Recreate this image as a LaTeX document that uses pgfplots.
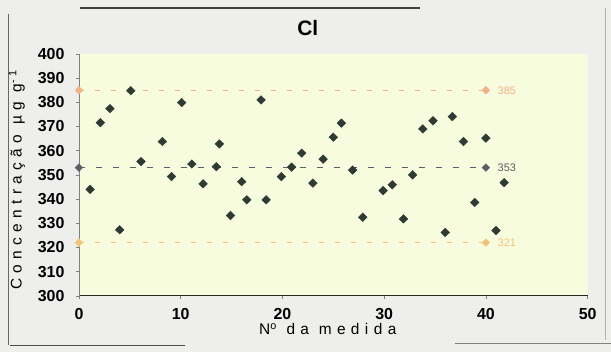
\documentclass[border=0pt]{standalone}
\usepackage{fontspec}
\setmainfont{Liberation Sans}
\newfontfamily\spaced[LetterSpace=35]{Liberation Sans}
\usepackage{pgfplots}
\pgfplotsset{compat=1.18}
\definecolor{pagebg}{HTML}{EEEEEC}
\definecolor{plotbg}{HTML}{F7FCDF}
\definecolor{markc}{HTML}{2E3A32}
\definecolor{upc}{HTML}{F0B088}
\definecolor{meanc}{HTML}{5A6068}
\definecolor{lowc}{HTML}{F2C478}
\begin{document}
\begin{tikzpicture}
\fill[pagebg] (0,0) rectangle (611bp,-352bp);
\draw[black!75, line width=1.2bp] (80bp,-8bp) -- (420bp,-8bp);
\draw[black!60, line width=0.8bp] (8bp,-14bp) -- (8bp,-345bp);
\draw[black!70, line width=1.2bp] (10bp,-346bp) -- (185bp,-346bp);
\draw[black!50, line width=0.8bp] (455bp,-344bp) -- (611bp,-344bp);
\draw[black!30, line width=0.6bp] (606bp,-8bp) -- (606bp,-340bp);
\begin{axis}[
  at={(79bp,-296bp)}, anchor=south west,
  scale only axis, width=509bp, height=242bp,
  xmin=0, xmax=50, ymin=300, ymax=400,
  xtick={0,10,...,50}, ytick={300,310,...,400},
  axis x line=bottom, axis y line=left,
  axis line style={-},
  x axis line style={black!85, line width=1.3bp},
  y axis line style={gray, line width=0.5bp},
  tick style={gray, line width=0.5bp},
  tick align=outside, major tick length=3bp,
  axis background/.style={fill=plotbg},
  tick label style={font=\fontsize{16}{17}\selectfont\bfseries},
  /pgf/number format/assume math mode=true,
  yticklabel style={xshift=-8bp},
  xticklabel style={yshift=-6bp},
  clip=false,
]
\addplot[upc, dashed, dash pattern=on 5bp off 11bp, line width=1bp, mark=diamond*, mark size=3.5bp, mark options={solid, xscale=1.3}]
  coordinates {(0,385) (40,385)} node[pos=1, right=8bp, font=\fontsize{11}{12}\selectfont, text=upc] {385};
\addplot[meanc, dashed, dash pattern=on 6bp off 11bp, line width=1bp, mark=diamond*, mark size=3.5bp, mark options={solid, xscale=1.3}]
  coordinates {(0,353) (40,353)} node[pos=1, right=8bp, font=\fontsize{11}{12}\selectfont, text=meanc] {353};
\addplot[lowc, dashed, dash pattern=on 5bp off 11bp, line width=1bp, mark=diamond*, mark size=3.5bp, mark options={solid, xscale=1.3}]
  coordinates {(0,322) (40,322)} node[pos=1, right=8bp, font=\fontsize{11}{12}\selectfont, text=lowc] {321};
\addplot[only marks, mark=diamond*, mark size=4.3bp, mark options={xscale=1.35}, color=markc] coordinates {
(1.1,344) (2.1,371.6) (3.05,377.4) (4.0,327.3) (5.1,384.8) (6.1,355.5)
(8.2,363.8) (9.1,349.3) (10.1,379.9) (11.1,354.5) (12.2,346.3) (13.5,353.4)
(13.8,362.8) (14.9,333.2) (16.0,347.2) (16.5,339.7) (17.9,381) (18.4,339.7)
(19.9,349.3) (20.9,353.2) (21.9,359) (23.0,346.6) (24.0,356.5) (25.0,365.6)
(25.8,371.4) (26.9,352) (27.9,332.5) (29.9,343.5) (30.8,345.9) (31.9,331.8)
(32.8,350) (33.8,369) (34.8,372.4) (36.0,326.2) (36.7,374.1) (37.8,363.8)
(38.9,338.6) (40.0,365.2) (41.0,327) (41.8,346.8)
};
\end{axis}
\node[font=\fontsize{21}{24}\selectfont\bfseries] at (308bp,-28bp) {Cl};
\node[font=\fontsize{15.5}{17}\selectfont\spaced] at (328bp,-329bp) {N\textsuperscript{o} da medida};
\node[rotate=90, font=\fontsize{15.5}{17}\selectfont\spaced] at (17bp,-180bp) {Concentração µg g\textsuperscript{-1}};
\end{tikzpicture}
\end{document}
